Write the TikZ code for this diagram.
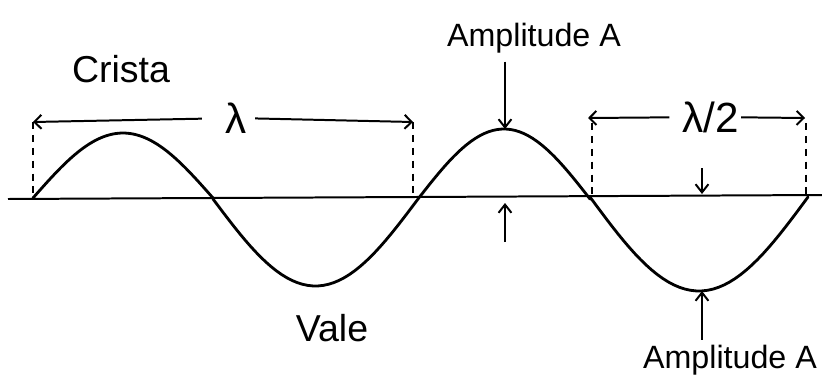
\documentclass[tikz,border=0pt]{standalone}
\usepackage{fontspec}
\setmainfont{Liberation Sans}
\usetikzlibrary{positioning, arrows.meta}

\begin{document}
\begin{tikzpicture}[
  x=0.03cm, y=-0.03cm,
  every node/.style={font=\fontsize{27.5}{30}\selectfont, inner sep=0pt},
  big/.style={font=\fontsize{36}{40}\selectfont},
  wave/.style={line width=2.4pt, line cap=round, line join=round},
  axisline/.style={line width=1.7pt},
  guide/.style={line width=1.4pt, dash pattern=on 6pt off 5pt},
  dim/.style={line width=1.7pt, -{Straight Barb[length=6pt,width=12pt]}},
  amp/.style={line width=1.7pt, -{Straight Barb[length=7pt,width=11pt]}},
]
  \useasboundingbox (0,0) rectangle (822,391);

  % eixo
  \coordinate (e0) at (8,199);
  \coordinate (e1) at (822,195);
  \draw[axisline] (e0) -- (e1);

  % onda
  \draw[wave]
    plot[domain=33:213, samples=40] (\x, {198-65*sin(((\x-33)/180)*180)})
    -- plot[domain=213:418, samples=40] (\x, {199+87*sin(((\x-213)/205)*180)})
    -- plot[domain=418:590, samples=40] (\x, {199-70*sin(((\x-418)/172)*180)})
    -- plot[domain=590:808, samples=40] (\x, {197+94*sin(((\x-590)/218)*180)});
  \coordinate (c2) at (505,129);
  \coordinate (t2) at (702,291);

  % comprimento de onda
  \coordinate (l0) at (33,122);
  \coordinate (l0b) at (33,197);
  \coordinate (l1) at (413,122);
  \coordinate (l1b) at (413,198);
  \draw[guide] (l0) -- (l0b);
  \draw[guide] (l1) -- (l1b);
  \node[big] (lam) at (236,118) {λ};
  \draw[dim, shorten <=0.7cm] (lam) -- (l0);
  \draw[dim, shorten <=0.25cm] (lam) -- (l1);

  % meio comprimento de onda
  \coordinate (h0) at (588,118);
  \coordinate (h0b) at (592,196);
  \coordinate (h1) at (805,118);
  \coordinate (h1b) at (806,195);
  \draw[guide] ([yshift=-0.15cm]h0 -| h0b) -- (h0b);
  \draw[guide] ([yshift=-0.15cm]h1 -| h1b) -- (h1b);
  \node[big] (half) at (711,117) {λ/2};
  \draw[dim, shorten <=0.4cm] (half) -- (h0);
  \draw[dim, shorten <=0.05cm] (half) -- (h1);

  % amplitudes
  \node (ampT) at (534,38) {Amplitude A};
  \draw[amp, shorten <=0.25cm] (ampT.south -| c2) -- (c2);
  \coordinate (u0) at (505,242);
  \coordinate (u1) at (505,203);
  \draw[amp] (u0) -- (u1);

  \node (ampB) at (730,360) {Amplitude A};
  \draw[amp, shorten <=0.15cm] (ampB.north -| t2) -- (t2);
  \coordinate (d0) at (702,168);
  \coordinate (d1) at (702,194);
  \draw[amp] (d0) -- (d1);

  % nomes
  \node[font=\fontsize{32}{36}\selectfont] (crista) at (121,69) {Crista};
  \node[font=\fontsize{32}{36}\selectfont] (vale) at (332,328) {Vale};
\end{tikzpicture}
\end{document}
